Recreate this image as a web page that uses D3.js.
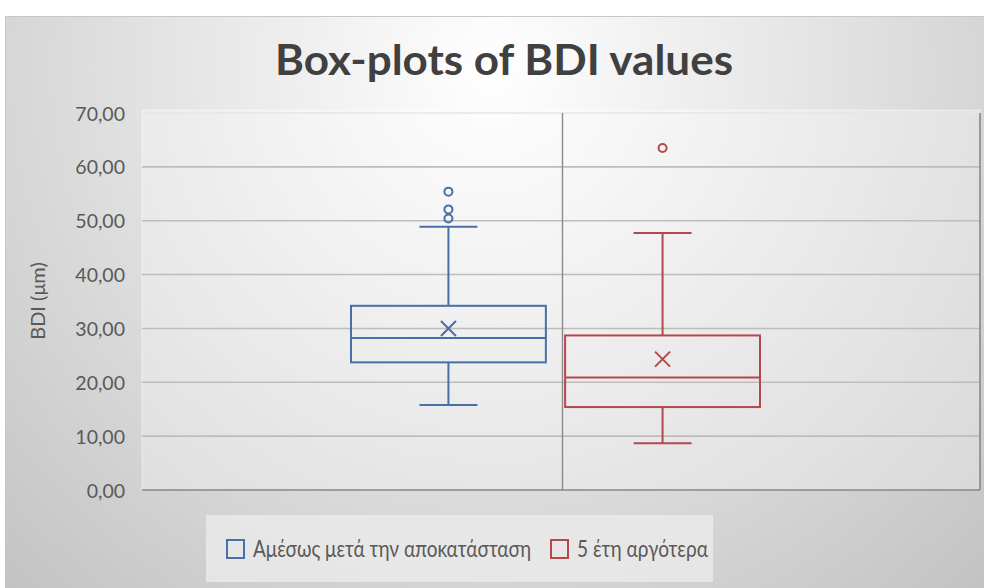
<!DOCTYPE html>
<html><head><meta charset="utf-8">
<script src="https://cdn.jsdelivr.net/npm/d3@7"></script>
<style>html,body{margin:0;padding:0;background:#fff;}svg{display:block;}</style>
</head><body>
<script>
// ---- data ----
const title = "Box-plots of BDI values";
const yLabel = "BDI (μm)";
const seriesNames = ["Αμέσως μετά την αποκατάσταση", "5 έτη αργότερα"];
const mins    = [15.8, 8.7];
const q1s     = [23.7, 15.4];
const medians = [28.2, 20.9];
const q3s     = [34.2, 28.7];
const maxs    = [48.9, 47.7];
const means   = [30.0, 24.3];
const outliers = [[50.4, 52.1, 55.4], [63.5]];
const yTicks = [0, 10, 20, 30, 40, 50, 60, 70];
const colors = ["#4a6ea8", "#b5474d"];

const W = 984, H = 588;
const FONT = "Lato, 'Open Sans', sans-serif";
const svg = d3.select("body").append("svg").attr("width", W).attr("height", H)
  .style("font-family", FONT);

const defs = svg.append("defs");
const rg = defs.append("radialGradient").attr("id", "bg")
  .attr("gradientUnits", "userSpaceOnUse")
  .attr("cx", 492).attr("cy", 70).attr("r", 720);
rg.append("stop").attr("offset", "0").attr("stop-color", "#ffffff");
rg.append("stop").attr("offset", "0.45").attr("stop-color", "#e4e4e4");
rg.append("stop").attr("offset", "1").attr("stop-color", "#c2c2c2");

// chart area
svg.append("rect").attr("x", 5.5).attr("y", 16.5).attr("width", W - 5).attr("height", H - 16)
  .attr("fill", "url(#bg)").attr("stroke", "#c8c8c8").attr("stroke-width", 1);

// plot area
const P = {l: 145, r: 980, t: 113, b: 490};
svg.append("rect").attr("x", P.l - 3).attr("y", P.t - 3).attr("width", P.r - P.l + 3).attr("height", P.b - P.t + 3)
  .attr("fill", "#ffffff").attr("fill-opacity", 0.3).attr("stroke", "#ffffff").attr("stroke-opacity", 0.5);

const y = d3.scaleLinear().domain([0, 70]).range([P.b, P.t]);
const x = d3.scaleBand().domain(seriesNames).range([351, 760]).paddingInner(0.09);
const xCat = d3.scaleBand().domain(["all"]).range([P.l, P.r]);

// y axis labels
const fmt = v => d3.format(".2f")(v).replace(".", ",");
const yAxis = d3.axisLeft(y).tickValues(yTicks).tickFormat(fmt).tickSize(0).tickPadding(20);
const gy = svg.append("g").attr("transform", `translate(${P.l},0)`).call(yAxis);
gy.select(".domain").remove();
gy.selectAll("text").attr("font-size", 19.5).attr("fill", "#595959").attr("font-family", FONT)
  .attr("dy", "0.36em");

// gridlines
svg.append("g").selectAll("line").data(yTicks.filter(t => t > 0)).join("line")
  .attr("x1", P.l - 3).attr("x2", P.r).attr("y1", d => y(d)).attr("y2", d => y(d))
  .attr("stroke", d => d === 70 ? "#e6e6e6" : "#bdbdbd").attr("stroke-width", 1.6);

// axis / borders
svg.append("line").attr("x1", P.l - 3).attr("x2", P.r).attr("y1", y(0)).attr("y2", y(0))
  .attr("stroke", "#858585").attr("stroke-width", 1.6);
svg.append("line").attr("x1", P.r).attr("x2", P.r).attr("y1", P.t).attr("y2", P.b)
  .attr("stroke", "#858585").attr("stroke-width", 1.6);
const divX = xCat("all") + xCat.bandwidth() / 2;
svg.append("line").attr("x1", divX).attr("x2", divX).attr("y1", P.t).attr("y2", P.b)
  .attr("stroke", "#8a8a8a").attr("stroke-width", 1.4);

// boxes
const boxes = seriesNames.map((s, i) => ({s, i, min: mins[i], q1: q1s[i], med: medians[i], q3: q3s[i], max: maxs[i], mean: means[i], out: outliers[i]}));
const g = svg.append("g").selectAll("g").data(boxes).join("g")
  .attr("stroke", d => colors[d.i]).attr("stroke-width", 2).attr("fill", "none");
const cx = d => x(d.s) + x.bandwidth() / 2;
const capW = 29;
g.append("line").attr("x1", cx).attr("x2", cx).attr("y1", d => y(d.max)).attr("y2", d => y(d.q3));
g.append("line").attr("x1", cx).attr("x2", cx).attr("y1", d => y(d.q1)).attr("y2", d => y(d.min));
g.append("line").attr("x1", d => cx(d) - capW).attr("x2", d => cx(d) + capW).attr("y1", d => y(d.max)).attr("y2", d => y(d.max));
g.append("line").attr("x1", d => cx(d) - capW).attr("x2", d => cx(d) + capW).attr("y1", d => y(d.min)).attr("y2", d => y(d.min));
g.append("rect").attr("x", d => x(d.s)).attr("width", x.bandwidth())
  .attr("y", d => y(d.q3)).attr("height", d => y(d.q1) - y(d.q3));
g.append("line").attr("x1", d => x(d.s)).attr("x2", d => x(d.s) + x.bandwidth()).attr("y1", d => y(d.med)).attr("y2", d => y(d.med));
g.append("path").attr("d", d => { const X = cx(d), Y = y(d.mean), r = 7.5; return `M${X-r},${Y-r}L${X+r},${Y+r}M${X-r},${Y+r}L${X+r},${Y-r}`; });
g.each(function(d) {
  d3.select(this).selectAll("circle").data(d.out).join("circle")
    .attr("cx", cx(d)).attr("cy", v => y(v)).attr("r", 4);
});

// title
svg.append("text").attr("x", 275).attr("y", 75)
  .attr("font-size", 42).attr("font-weight", "bold").attr("fill", "#404040")
  .attr("textLength", 458).attr("lengthAdjust", "spacingAndGlyphs").text(title);
// y label
svg.append("text").attr("transform", `translate(45,301) rotate(-90)`).attr("text-anchor", "middle")
  .attr("font-size", 20).attr("fill", "#595959").text(yLabel);

// legend
const L = svg.append("g");
L.append("rect").attr("x", 206).attr("y", 515).attr("width", 507).attr("height", 67)
  .attr("fill", "#ebebeb").attr("fill-opacity", 0.8);
const legX = [227, 551];
const legW = [278, 131];
const items = L.selectAll("g").data(seriesNames).join("g").attr("transform", (d, i) => `translate(${legX[i]},540)`);
items.append("rect").attr("width", 17).attr("height", 18).attr("fill", "none")
  .attr("stroke", (d, i) => colors[i]).attr("stroke-width", 2);
items.append("text").attr("x", 26).attr("y", 17).attr("font-size", 23).attr("fill", "#595959")
  .attr("textLength", (d, i) => legW[i]).attr("lengthAdjust", "spacingAndGlyphs").text(d => d);
</script>
</body></html>
